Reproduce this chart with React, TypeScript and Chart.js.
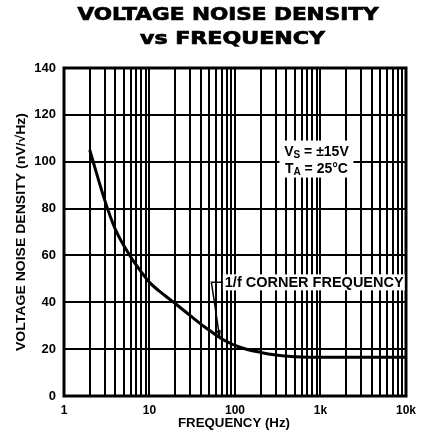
import React, { useEffect, useRef } from "react";
import { Chart, registerables } from "chart.js";

Chart.register(...registerables);

const titleLines = ["VOLTAGE NOISE DENSITY", "vs FREQUENCY"];
const xTitle = "FREQUENCY (Hz)";
const yTitle = "VOLTAGE NOISE DENSITY (nV/√Hz)";

const freqHz = [2, 3, 4, 6, 8, 10, 15, 20, 30, 46, 73, 114, 200, 300, 500, 1000, 3000, 10000];
const noiseNv = [105, 83.5, 71, 59.5, 53, 48.5, 43, 39.5, 34.3, 29, 24, 20.8, 18.6, 17.5, 16.8, 16.5, 16.5, 16.5];

const xMajorValues = [1, 10, 100, 1000, 10000];
const xMajorLabels = ["1", "10", "100", "1k", "10k"];
const xGridValues = [
  1, 2, 3, 4, 5, 6, 7, 8, 9,
  10, 20, 30, 40, 50, 60, 70, 80, 90,
  100, 200, 300, 400, 500, 600, 700, 800, 900,
  1000, 2000, 3000, 4000, 5000, 6000, 7000, 8000, 9000,
  10000,
];
const yTicks = [0, 20, 40, 60, 80, 100, 120, 140];

const conditionLines = [
  { main: "V", sub: "S", rest: " = ±15V" },
  { main: "T", sub: "A", rest: " = 25°C" },
];
const conditionAt = { f: 897, v: 100.5 };
const cornerLabel = "1/f CORNER FREQUENCY";
const cornerLabelAt = { f: 76, v: 48.5 };
const cornerArrowStart = { f: 53, v: 48.5 };
const cornerArrowTip = { f: 66.6, v: 24.3 };

const FONT = "'Liberation Sans', Arial, sans-serif";
const WIDE = "'DejaVu Sans', sans-serif";

function fitText(
  ctx: CanvasRenderingContext2D,
  text: string,
  x: number,
  y: number,
  font: string,
  width: number,
  stroke = 0
) {
  ctx.save();
  ctx.font = font;
  const w = ctx.measureText(text).width;
  ctx.translate(x, y);
  ctx.scale(width / w, 1);
  ctx.textAlign = "center";
  ctx.textBaseline = "middle";
  ctx.fillText(text, 0, 0);
  if (stroke > 0) {
    ctx.lineWidth = stroke;
    ctx.strokeStyle = "#000";
    ctx.strokeText(text, 0, 0);
  }
  ctx.restore();
}

export default function App() {
  const ref = useRef<HTMLCanvasElement | null>(null);

  useEffect(() => {
    document.body.style.margin = "0";
    const canvas = ref.current;
    if (!canvas) return;

    const textPlugin = {
      id: "customText",
      afterDraw(chart: any) {
        const ctx = chart.ctx as CanvasRenderingContext2D;
        const xs = chart.scales.x;
        const ys = chart.scales.y;
        const area = chart.chartArea;
        ctx.save();
        ctx.fillStyle = "#000";

        // title
        fitText(ctx, titleLines[0], 228, 16, `bold 17px ${WIDE}`, 301, 0.7);
        fitText(ctx, titleLines[1], 232.5, 40, `bold 17px ${WIDE}`, 185, 0.7);

        // axis titles
        fitText(ctx, xTitle, 234, 423, `bold 13px ${FONT}`, 112);
        ctx.save();
        ctx.translate(21, (area.top + area.bottom) / 2);
        ctx.rotate(-Math.PI / 2);
        fitText(ctx, yTitle, 0, 0, `bold 13px ${FONT}`, 238);
        ctx.restore();

        // conditions box
        const cx = xs.getPixelForValue(conditionAt.f);
        const cy = ys.getPixelForValue(conditionAt.v);
        ctx.fillStyle = "#fff";
        ctx.fillRect(cx - 37, cy - 20, 74, 37);
        ctx.fillStyle = "#000";
        ctx.textAlign = "left";
        ctx.textBaseline = "middle";
        conditionLines.forEach((ln, i) => {
          const y = cy - 8.5 + i * 17.3;
          ctx.font = `bold 14px ${FONT}`;
          const wMain = ctx.measureText(ln.main).width;
          ctx.font = `bold 10px ${FONT}`;
          const wSub = ctx.measureText(ln.sub).width;
          ctx.font = `bold 14px ${FONT}`;
          const wRest = ctx.measureText(ln.rest).width;
          let x = cx - (wMain + wSub + wRest) / 2;
          ctx.fillText(ln.main, x, y);
          x += wMain;
          ctx.font = `bold 10px ${FONT}`;
          ctx.fillText(ln.sub, x, y + 3);
          x += wSub;
          ctx.font = `bold 14px ${FONT}`;
          ctx.fillText(ln.rest, x, y);
        });

        // corner frequency label
        const lx = xs.getPixelForValue(cornerLabelAt.f);
        const ly = ys.getPixelForValue(cornerLabelAt.v);
        ctx.font = `bold 14.5px ${FONT}`;
        const lw = ctx.measureText(cornerLabel).width;
        ctx.fillStyle = "#fff";
        ctx.fillRect(lx - 2, ly - 8, lw + 3, 16);
        ctx.fillStyle = "#000";
        ctx.fillText(cornerLabel, lx, ly + 1);

        // leader + arrow
        const sx = xs.getPixelForValue(cornerArrowStart.f);
        const sy = ys.getPixelForValue(cornerArrowStart.v);
        const tx = xs.getPixelForValue(cornerArrowTip.f);
        const ty = ys.getPixelForValue(cornerArrowTip.v);
        ctx.strokeStyle = "#000";
        ctx.lineWidth = 1.5;
        ctx.beginPath();
        ctx.moveTo(lx - 2, sy);
        ctx.lineTo(sx, sy);
        ctx.lineTo(tx, ty);
        ctx.stroke();
        const ang = Math.atan2(ty - sy, tx - sx);
        const ah = 9;
        ctx.beginPath();
        ctx.moveTo(tx, ty);
        ctx.lineTo(tx - ah * Math.cos(ang - 0.25), ty - ah * Math.sin(ang - 0.25));
        ctx.lineTo(tx - ah * Math.cos(ang + 0.25), ty - ah * Math.sin(ang + 0.25));
        ctx.closePath();
        ctx.fill();
        ctx.restore();
      },
    };

    const borderPlugin = {
      id: "boxBorder",
      beforeDatasetsDraw(chart: any) {
        const { ctx, chartArea: a } = chart;
        ctx.save();
        ctx.strokeStyle = "#000";
        ctx.lineWidth = 3;
        ctx.strokeRect(a.left, a.top, a.right - a.left, a.bottom - a.top);
        ctx.restore();
      },
    };

    const chart = new Chart(canvas, {
      type: "line",
      data: {
        datasets: [
          {
            data: freqHz.map((f, i) => ({ x: f, y: noiseNv[i] })),
            borderColor: "#000",
            borderWidth: 3,
            pointRadius: 0,
            cubicInterpolationMode: "monotone",
            fill: false,
          },
        ],
      },
      options: {
        animation: false,
        responsive: false,
        maintainAspectRatio: false,
        layout: { padding: { top: 68, right: 17, left: 0, bottom: 0 } },
        plugins: {
          legend: { display: false },
          title: { display: false },
          tooltip: { enabled: false },
        },
        scales: {
          x: {
            type: "logarithmic",
            min: 1,
            max: 10000,
            afterBuildTicks: (scale: any) => {
              scale.ticks = xGridValues.map((v) => ({ value: v }));
            },
            afterFit: (scale: any) => {
              scale.height = 42;
            },
            ticks: {
              autoSkip: false,
              maxRotation: 0,
              padding: 7,
              color: "#000",
              font: { family: FONT, size: 12, weight: "bold" },
              callback: (v: any) => {
                const idx = xMajorValues.indexOf(Number(v));
                return idx >= 0 ? xMajorLabels[idx] : "";
              },
            },
            grid: { color: "#000", lineWidth: 2, drawTicks: false },
            border: { display: false },
          },
          y: {
            min: 0,
            max: 140,
            afterBuildTicks: (scale: any) => {
              scale.ticks = yTicks.map((v) => ({ value: v }));
            },
            afterFit: (scale: any) => {
              scale.width = 64;
            },
            ticks: {
              padding: 8,
              color: "#000",
              font: { family: FONT, size: 13, weight: "bold" },
            },
            grid: { color: "#000", lineWidth: 2, drawTicks: false },
            border: { display: false },
          },
        },
      },
      plugins: [borderPlugin, textPlugin],
    } as any);

    return () => chart.destroy();
  }, []);

  return <canvas ref={ref} width={423} height={438} style={{ display: "block" }} />;
}
